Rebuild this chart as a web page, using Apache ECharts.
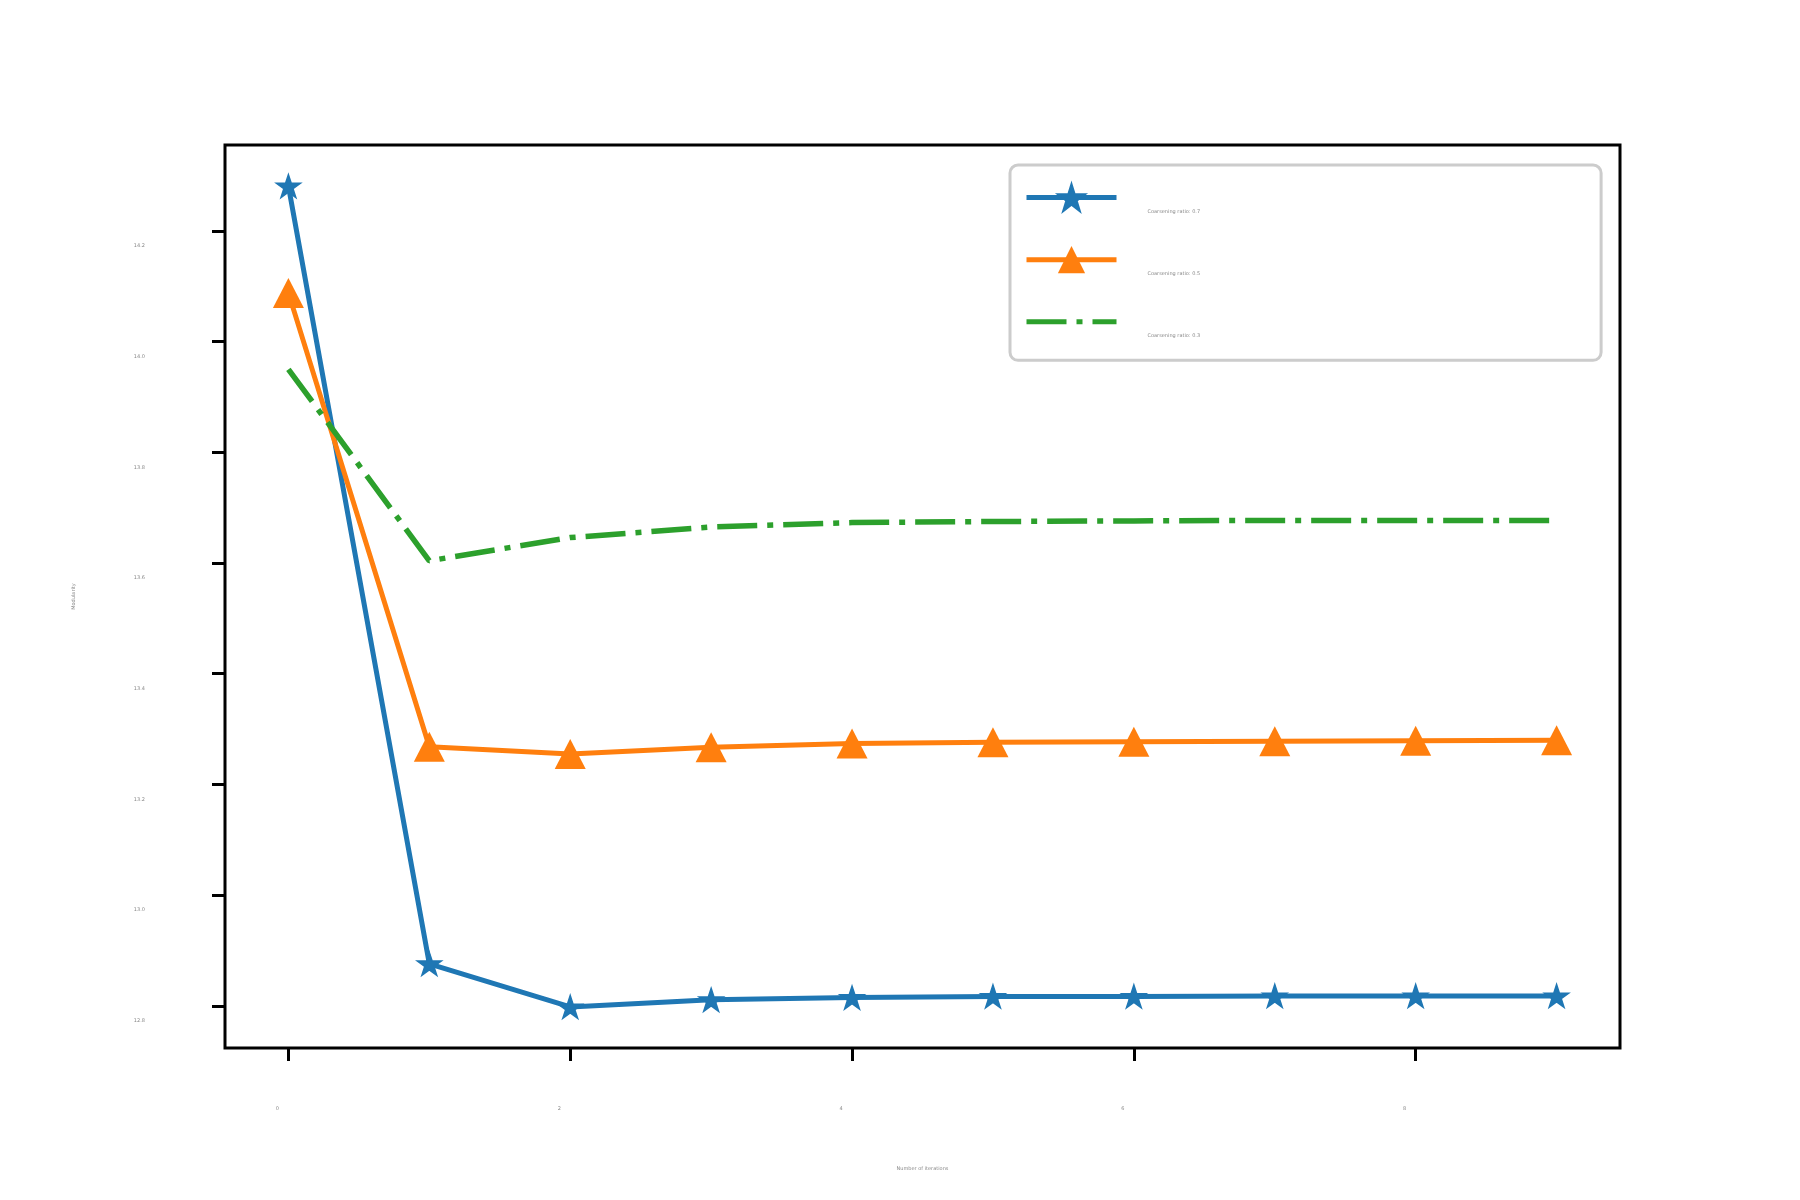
<!DOCTYPE html>
<html>
<head>
<meta charset="utf-8">
<script src="https://cdn.jsdelivr.net/npm/echarts@6/dist/echarts.min.js"></script>
<style>
  html, body { margin: 0; padding: 0; background: #fff; }
  #chart { width: 1800px; height: 1200px; }
</style>
</head>
<body>
<div id="chart"></div>
<script>
const iterations = [0, 1, 2, 3, 4, 5, 6, 7, 8, 9]
const ratio07 = [14.281, 12.876, 12.798, 12.811, 12.815, 12.817, 12.817, 12.818, 12.818, 12.818]
const ratio05 = [14.088, 13.268, 13.255, 13.267, 13.274, 13.276, 13.277, 13.278, 13.279, 13.280]
const ratio03 = [13.950, 13.604, 13.646, 13.665, 13.673, 13.675, 13.676, 13.677, 13.677, 13.677]
const seriesNames = ['Coarsening ratio: 0.7', 'Coarsening ratio: 0.5', 'Coarsening ratio: 0.3']
const xTicks = [0, 2, 4, 6, 8]
const yTicks = [12.8, 13.0, 13.2, 13.4, 13.6, 13.8, 14.0, 14.2]

// star shape like matplotlib '*'
const starPath = 'path://M50,0 L61.2,34.5 L97.6,34.5 L68.2,55.9 L79.4,90.5 L50,69.1 L20.6,90.5 L31.8,55.9 L2.4,34.5 L38.8,34.5 Z'

const pairs = vals => iterations.map((x, i) => [x, vals[i]])

// axis range with 5% margin, like matplotlib
const allVals = ratio07.concat(ratio05, ratio03)
const yLo = Math.min(...allVals)
const yHi = Math.max(...allVals)
const yPad = (yHi - yLo) * 0.05
const xPad = (iterations[iterations.length - 1] - iterations[0]) * 0.05

const chart = echarts.init(document.getElementById('chart'))
chart.setOption({
  animation: false,
  textStyle: { fontFamily: 'DejaVu Sans' },
  grid: {
    left: 225,
    right: 180,
    top: 145,
    bottom: 152,
    show: true,
    borderColor: '#000',
    borderWidth: 3
  },
  legend: {
    left: 1010,
    top: 165,
    orient: 'vertical',
    padding: [18, 401, 22, 14],
    itemWidth: 90,
    itemHeight: 34,
    itemGap: 32,
    borderColor: '#cccccc',
    borderWidth: 3,
    borderRadius: 8,
    backgroundColor: '#fff',
    lineStyle: { width: 5 },
    // text sits a bit below the legend line, like the original
    formatter: name => '{s| }{t|' + name + '}',
    textStyle: {
      color: '#888',
      padding: [0, 0, 0, 26],
      rich: {
        s: { fontSize: 1, height: 33, width: 0 },
        t: { fontSize: 5, color: '#888', verticalAlign: 'bottom' }
      }
    },
    data: [
      { name: seriesNames[0] },
      { name: seriesNames[1] },
      { name: seriesNames[2], itemStyle: { opacity: 0 } }
    ]
  },
  xAxis: {
    type: 'value',
    min: iterations[0] - xPad,
    max: iterations[iterations.length - 1] + xPad,
    name: 'Number of iterations',
    nameLocation: 'middle',
    nameGap: 118,
    nameTextStyle: { fontSize: 5, color: '#888' },
    splitLine: { show: false },
    axisLine: { show: false, onZero: false },
    axisTick: {
      show: true,
      length: 13,
      customValues: xTicks,
      lineStyle: { color: '#000', width: 3 }
    },
    axisLabel: {
      customValues: xTicks,
      fontSize: 5,
      color: '#888',
      margin: 58,
      padding: [0, 22, 0, 0]
    }
  },
  yAxis: {
    type: 'value',
    min: yLo - yPad,
    max: yHi + yPad,
    name: 'Modularity',
    nameLocation: 'middle',
    nameGap: 149,
    nameRotate: 90,
    nameTextStyle: { fontSize: 5, color: '#888' },
    splitLine: { show: false },
    axisLine: { show: false, onZero: false },
    axisTick: {
      show: true,
      length: 13,
      customValues: yTicks,
      lineStyle: { color: '#000', width: 3 }
    },
    axisLabel: {
      customValues: yTicks,
      fontSize: 5,
      color: '#888',
      margin: 80,
      verticalAlign: 'top',
      lineHeight: 30,
      formatter: v => v.toFixed(1)
    }
  },
  series: [
    {
      name: seriesNames[0],
      type: 'line',
      data: pairs(ratio07),
      symbol: starPath,
      symbolSize: 24,
      symbolKeepAspect: true,
      lineStyle: { color: '#1f77b4', width: 5 },
      itemStyle: { color: '#1f77b4', borderColor: '#1f77b4', borderWidth: 1.5 }
    },
    {
      name: seriesNames[1],
      type: 'line',
      data: pairs(ratio05),
      symbol: 'triangle',
      symbolSize: [31, 30],
      lineStyle: { color: '#ff7f0e', width: 5 },
      itemStyle: { color: '#ff7f0e', borderWidth: 0 }
    },
    {
      name: seriesNames[2],
      type: 'line',
      data: pairs(ratio03),
      symbol: 'none',
      lineStyle: { color: '#2ca02c', width: 5.5, type: [40, 10, 6, 10], cap: 'butt' },
      itemStyle: { color: '#2ca02c' }
    }
  ]
})
</script>
</body>
</html>
